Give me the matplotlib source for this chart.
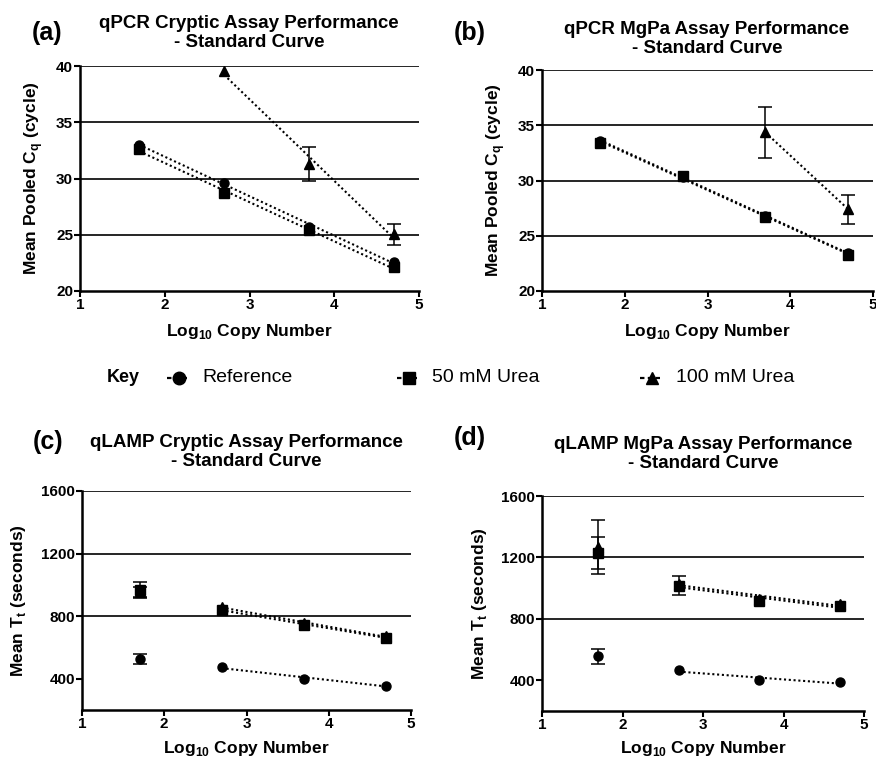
import numpy as np
import matplotlib.pyplot as plt
from matplotlib.lines import Line2D

plt.rcParams['font.family'] = 'Liberation Sans'
plt.rcParams['mathtext.fontset'] = 'custom'
plt.rcParams['mathtext.rm'] = 'Liberation Sans:bold'
plt.rcParams['mathtext.bf'] = 'Liberation Sans:bold'

nan = np.nan

# log10 copy number (x positions)
log_copies = [1.7, 2.7, 3.7, 4.7]

# (a) qPCR Cryptic - Cq  (nan sd = bar hidden under the marker)
a_ref = [33.0, 29.6, 25.7, 22.6]
a_ref_sd = [nan, nan, nan, nan]
a_u50 = [32.6, 28.7, 25.4, 22.1]
a_u50_sd = [nan, nan, nan, nan]
a_u100 = [nan, 39.55, 31.3, 25.05]
a_u100_sd = [nan, nan, 1.5, 0.95]

# (b) qPCR MgPa - Cq
b_ref = [33.6, 30.35, 26.8, 23.4]
b_ref_sd = [nan, nan, nan, nan]
b_u50 = [33.4, 30.4, 26.7, 23.3]
b_u50_sd = [nan, nan, nan, nan]
b_u100 = [nan, nan, 34.35, 27.4]
b_u100_sd = [nan, nan, 2.3, 1.3]

# (c) qLAMP Cryptic - Tt (s)
c_ref = [525, 472, 400, 355]
c_ref_sd = [30, nan, nan, nan]
c_u50 = [967, 840, 744, 663]
c_u50_sd = [50, nan, nan, nan]
c_u100 = [955, 858, 755, 670]
c_u100_sd = [30, nan, nan, nan]

# (d) qLAMP MgPa - Tt (s)
d_ref = [557, 465, 400, 387]
d_ref_sd = [48, nan, nan, nan]
d_u50 = [1226, 1017, 917, 883]
d_u50_sd = [104, 60, nan, nan]
d_u100 = [1270, 1030, 930, 895]
d_u100_sd = [175, nan, nan, nan]

W, H = 876, 759
fig = plt.figure(figsize=(W / 100, H / 100), dpi=100)

markers = ['o', 's', '^']
names = ['Reference', '50 mM Urea', '100 mM Urea']
dot = (0, (1, 1.3))


def panel(rect, series, ylim, yticks, fit_from, title, letter, title_xy, letter_xy,
          ylabel, ylab_x, xlab_y):
    l, b, w, h = rect
    ax = fig.add_axes([l / W, 1 - b / H, w / W, h / H])
    x = np.array(log_copies)
    for (y, sd), m in zip(series, markers):
        y = np.array(y, dtype=float)
        sd = np.array(sd, dtype=float)
        ok = ~np.isnan(y) & (x >= fit_from)
        if ok.sum() >= 2:
            k, c0 = np.polyfit(x[ok], y[ok], 1)
            xf = np.array([x[ok].min(), x[ok].max()])
            ax.plot(xf, k * xf + c0, color='black', ls=dot, lw=1.5, zorder=2)
        ax.errorbar(x, y, yerr=sd, fmt=m, color='black', ms=6.5, elinewidth=1.1,
                    capsize=5, capthick=1.1, zorder=3)
    ax.set_xlim(1, 5)
    ax.set_ylim(*ylim)
    ax.set_xticks([1, 2, 3, 4, 5])
    ax.set_yticks(yticks)
    for t in yticks[1:]:
        ax.axhline(t, color='black', lw=1.2, zorder=1)
    for s in ['top', 'right']:
        ax.spines[s].set_visible(False)
    for s in ['left', 'bottom']:
        ax.spines[s].set_linewidth(1.8)
    ax.tick_params(direction='out', length=4, width=1.5, labelsize=11, pad=1)
    for lab in ax.get_xticklabels() + ax.get_yticklabels():
        lab.set_fontweight('bold')
    ax.set_xlabel(r'Log$_{\mathbf{10}}$ Copy Number', fontsize=12.5, fontweight='bold')
    ax.xaxis.set_label_coords(0.5, xlab_y)
    ax.set_ylabel(ylabel, fontsize=12.5, fontweight='bold')
    ax.yaxis.set_label_coords(ylab_x, 0.5)
    fig.text(title_xy[0] / W, 1 - title_xy[1] / H, title, ha='center', va='center',
             fontsize=13.5, fontweight='bold', linespacing=1.1)
    fig.text(letter_xy[0] / W, 1 - letter_xy[1] / H, letter, ha='center', va='center',
             fontsize=18, fontweight='bold')
    return ax


cq_label = r'Mean Pooled C$_{\mathbf{q}}$ (cycle)'
tt_label = r'Mean T$_{\mathbf{t}}$ (seconds)'

panel((80, 291, 339, 225),
      [(a_ref, a_ref_sd), (a_u50, a_u50_sd), (a_u100, a_u100_sd)],
      (20, 40), [20, 25, 30, 35, 40], 0,
      'qPCR Cryptic Assay Performance\n- Standard Curve', '(a)',
      (249, 33), (47, 33), cq_label, -0.103, -0.138)

panel((542, 291, 331, 221),
      [(b_ref, b_ref_sd), (b_u50, b_u50_sd), (b_u100, b_u100_sd)],
      (20, 40), [20, 25, 30, 35, 40], 0,
      'qPCR MgPa Assay Performance\n- Standard Curve', '(b)',
      (707, 39), (470, 33), cq_label, -0.106, -0.140)

panel((82, 710, 329, 219),
      [(c_ref, c_ref_sd), (c_u50, c_u50_sd), (c_u100, c_u100_sd)],
      (200, 1600), [400, 800, 1200, 1600], 2.5,
      'qLAMP Cryptic Assay Performance\n- Standard Curve', '(c)',
      (246, 452), (48, 442), tt_label, -0.164, -0.132)

panel((542, 711, 322, 215),
      [(d_ref, d_ref_sd), (d_u50, d_u50_sd), (d_u100, d_u100_sd)],
      (200, 1600), [400, 800, 1200, 1600], 2.5,
      'qLAMP MgPa Assay Performance\n- Standard Curve', '(d)',
      (703, 454), (470, 438), tt_label, -0.165, -0.130)

# key row
ky = 1 - 378 / H
fig.text(107 / W, ky, 'Key', fontsize=13, fontweight='bold', va='center')
key_x = [(167, 202), (397, 432), (640, 676)]
for (x0, tx), m, name in zip(key_x, markers, names):
    xs = np.array([x0, x0 + 11.5, x0 + 23]) / W
    fig.add_artist(Line2D(xs, [ky] * 3, transform=fig.transFigure, color='black',
                          ls=(0, (2, 1.5)), lw=1.6, marker=m, ms=9, markevery=[1]))
    fig.text(tx / W, ky, name, fontsize=14, va='center')

fig.savefig('out.png', dpi=100)
